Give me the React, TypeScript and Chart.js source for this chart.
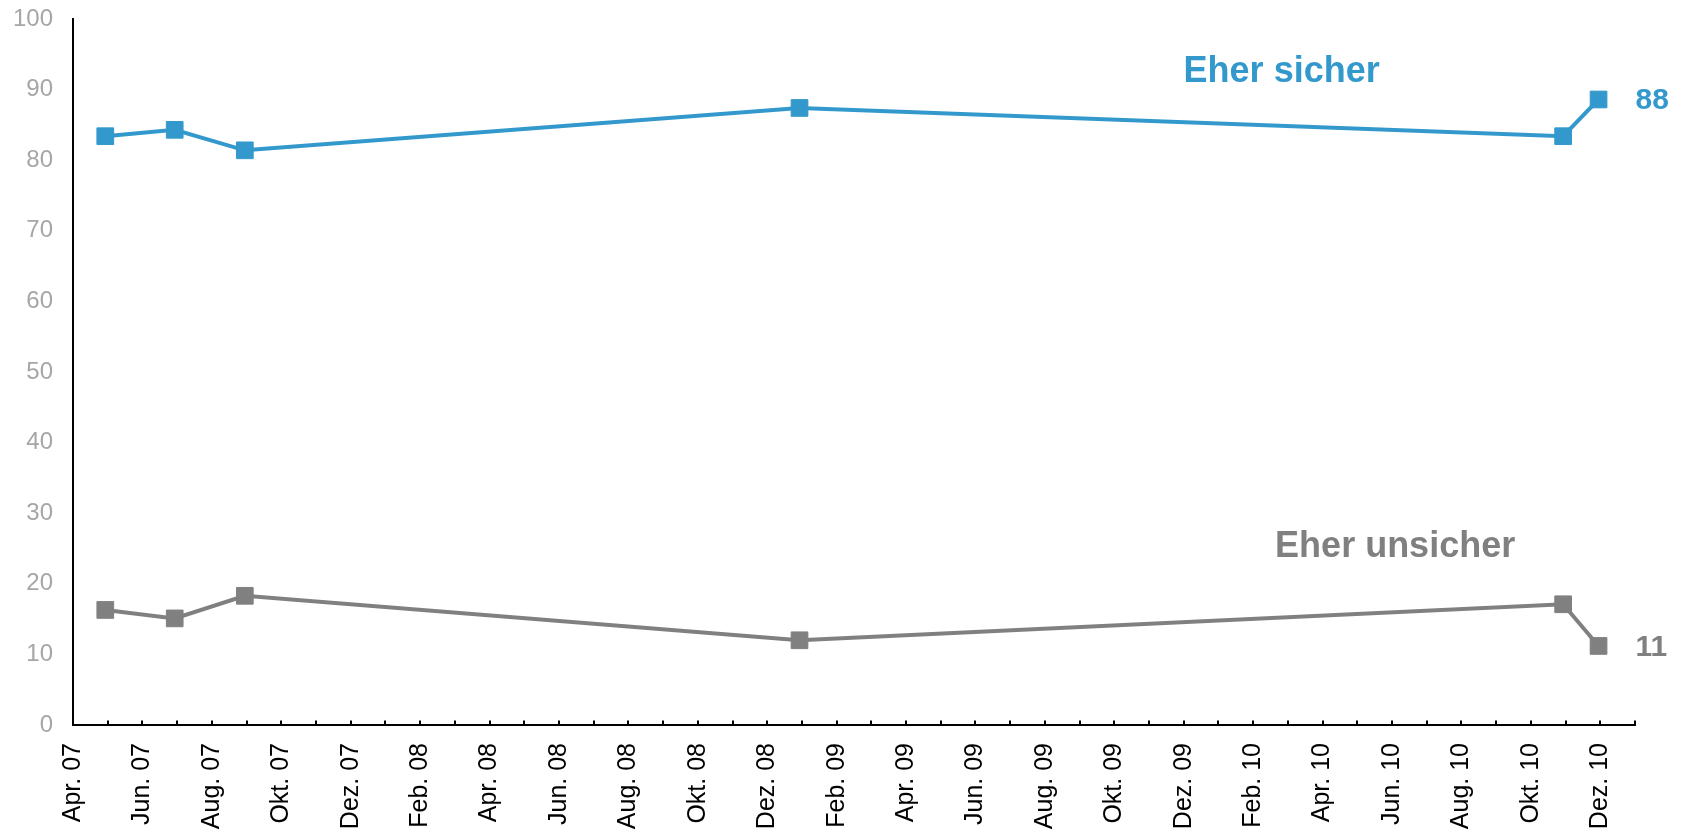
import React, { useEffect, useRef } from "react";
import { Chart, registerables } from "chart.js";

Chart.register(...registerables);

// Month index since Apr. 07 (0 = Apr. 07, 44 = Dez. 10)
const monthPositions = [0.93, 2.93, 4.95, 20.93, 42.93, 43.95];
const eherSicher = [83.4, 84.3, 81.4, 87.4, 83.4, 88.6];
const eherUnsicher = [16.3, 15.1, 18.3, 12.0, 17.1, 11.2];

const monthLabels = [
  "Apr. 07", "Jun. 07", "Aug. 07", "Okt. 07", "Dez. 07",
  "Feb. 08", "Apr. 08", "Jun. 08", "Aug. 08", "Okt. 08", "Dez. 08",
  "Feb. 09", "Apr. 09", "Jun. 09", "Aug. 09", "Okt. 09", "Dez. 09",
  "Feb. 10", "Apr. 10", "Jun. 10", "Aug. 10", "Okt. 10", "Dez. 10",
];

const seriesNames = ["Eher sicher", "Eher unsicher"];
const endLabels = ["88", "11"];

const BLUE = "#3399cc";
const GRAY = "#808080";
const FONT = "'Liberation Sans', Arial, sans-serif";

const innerTicksPlugin = {
  id: "innerTicks",
  afterDraw(chart: any) {
    const { ctx, chartArea } = chart;
    const x = chart.scales.x;
    ctx.save();
    ctx.strokeStyle = "#000";
    ctx.lineWidth = 2;
    x.ticks.forEach((t: any) => {
      const px = Math.round(x.getPixelForValue(t.value));
      ctx.beginPath();
      ctx.moveTo(px, chartArea.bottom);
      ctx.lineTo(px, chartArea.bottom - 4.5);
      ctx.stroke();
    });
    ctx.restore();
  },
};

const labelsPlugin = {
  id: "seriesLabels",
  afterDatasetsDraw(chart: any) {
    const { ctx } = chart;
    const x = chart.scales.x;
    const y = chart.scales.y;
    ctx.save();
    ctx.textAlign = "center";
    ctx.textBaseline = "alphabetic";
    ctx.font = `bold 36px ${FONT}`;
    ctx.fillStyle = BLUE;
    ctx.fillText(seriesNames[0], x.getPixelForValue(34.82), y.getPixelForValue(91.1));
    ctx.fillStyle = GRAY;
    ctx.fillText(seriesNames[1], x.getPixelForValue(38.09), y.getPixelForValue(23.84));
    ctx.textAlign = "left";
    ctx.textBaseline = "middle";
    ctx.font = `bold 30px ${FONT}`;
    const last = monthPositions.length - 1;
    ctx.fillStyle = BLUE;
    ctx.fillText(
      endLabels[0],
      x.getPixelForValue(monthPositions[last]) + 37,
      y.getPixelForValue(eherSicher[last]) + 1
    );
    ctx.fillStyle = GRAY;
    ctx.fillText(
      endLabels[1],
      x.getPixelForValue(monthPositions[last]) + 37,
      y.getPixelForValue(eherUnsicher[last]) + 2
    );
    ctx.restore();
  },
};

export default function App() {
  const canvasRef = useRef<HTMLCanvasElement | null>(null);

  useEffect(() => {
    if (!canvasRef.current) return;
    const chart = new Chart(canvasRef.current, {
      type: "line",
      data: {
        datasets: [
          {
            label: seriesNames[0],
            data: monthPositions.map((m, i) => ({ x: m, y: eherSicher[i] })),
            borderColor: BLUE,
            backgroundColor: BLUE,
            borderWidth: 4,
            pointStyle: "rect",
            pointRadius: 11.8,
            pointBorderWidth: 1,
            pointBackgroundColor: BLUE,
            pointBorderColor: BLUE,
            tension: 0,
          },
          {
            label: seriesNames[1],
            data: monthPositions.map((m, i) => ({ x: m, y: eherUnsicher[i] })),
            borderColor: GRAY,
            backgroundColor: GRAY,
            borderWidth: 4,
            pointStyle: "rect",
            pointRadius: 11.8,
            pointBorderWidth: 1,
            pointBackgroundColor: GRAY,
            pointBorderColor: GRAY,
            tension: 0,
          },
        ],
      },
      options: {
        responsive: false,
        animation: false,
        layout: { padding: { top: 19, right: 49, left: 0, bottom: 0 } },
        plugins: {
          legend: { display: false },
          tooltip: { enabled: false },
          title: { display: false },
        },
        scales: {
          x: {
            type: "linear",
            min: 0,
            max: 45,
            grid: { display: false, drawTicks: false },
            border: { display: true, color: "#000", width: 2 },
            ticks: {
              stepSize: 1,
              autoSkip: false,
              minRotation: 90,
              maxRotation: 90,
              padding: 18,
              color: "#000",
              font: { family: FONT, size: 25 },
              callback: (value: any) => {
                const v = Math.round(Number(value));
                return v % 2 === 0 && monthLabels[v / 2] ? monthLabels[v / 2] : "";
              },
            },
            afterFit: (scale: any) => {
              scale.height = 110;
              scale.paddingLeft = 0;
              scale.paddingRight = 0;
            },
          },
          y: {
            min: 0,
            max: 100,
            grid: { display: false, drawTicks: false },
            border: { display: true, color: "#000", width: 2 },
            ticks: {
              stepSize: 10,
              padding: 20,
              color: "#a6a6a6",
              font: { family: FONT, size: 24 },
            },
            afterFit: (scale: any) => {
              scale.width = 73;
              scale.paddingTop = 0;
              scale.paddingBottom = 0;
            },
          },
        },
      },
      plugins: [innerTicksPlugin, labelsPlugin],
    });
    return () => chart.destroy();
  }, []);

  return (
    <div style={{ position: "fixed", left: 0, top: 0, width: 1684, height: 835, background: "#fff" }}>
      <canvas ref={canvasRef} width={1684} height={835} style={{ width: 1684, height: 835 }} />
    </div>
  );
}
